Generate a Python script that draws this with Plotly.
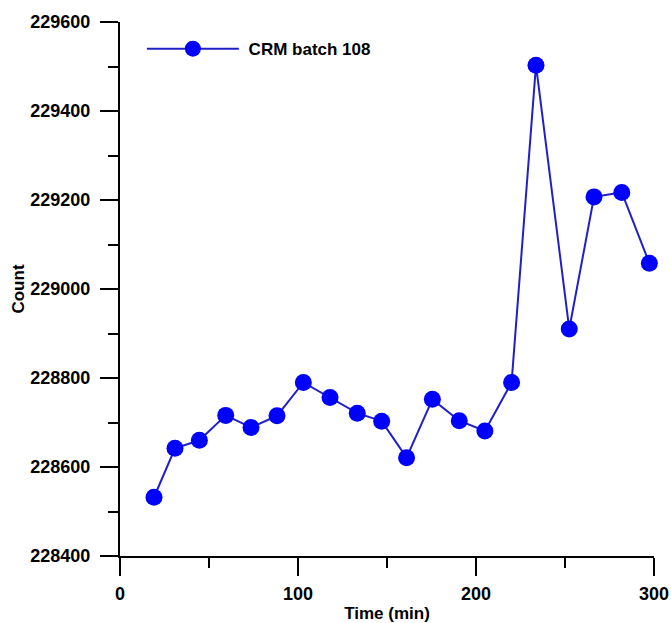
import plotly.graph_objects as go

time_min = [19.1, 30.9, 44.6, 59.4, 73.6, 88.2, 103.0, 118.0, 133.3, 147.0,
            161.0, 175.5, 190.6, 205.0, 220.0, 233.7, 252.4, 266.3, 281.9, 297.4]
count = [228532, 228642, 228660, 228716, 228689, 228715, 228790, 228756, 228721, 228703,
         228621, 228752, 228704, 228681, 228790, 229503, 228910, 229207, 229217, 229058]
series_name = "CRM batch 108"

FONT = "Liberation Sans"

fig = go.Figure()
fig.add_trace(go.Scatter(
    x=time_min, y=count, mode="lines+markers", name="\u00a0" + series_name,
    line=dict(color="#2020c8", width=2),
    marker=dict(color="#0000ff", size=17, line=dict(width=0)),
    cliponaxis=False,
))

axis_common = dict(
    showline=True, linecolor="black", linewidth=2,
    ticks="outside", ticklen=18, tickwidth=2, tickcolor="black",
    showgrid=False, zeroline=False, mirror=False, automargin=False,
    tickfont=dict(family=FONT, size=18, color="black", weight="bold"),
)

fig.update_xaxes(
    range=[0, 300], tickmode="linear", tick0=0, dtick=100,
    minor=dict(ticks="outside", ticklen=10, tickwidth=2, tickcolor="black", dtick=50, tick0=0),
    title=dict(text="<b>Time (min)</b>", font=dict(family=FONT, size=17, color="black"), standoff=10),
    ticklabelstandoff=2,
    **axis_common,
)
fig.update_yaxes(
    range=[228400, 229600], tickmode="linear", tick0=228400, dtick=200,
    minor=dict(ticks="outside", ticklen=10, tickwidth=2, tickcolor="black", dtick=100, tick0=228400),
    title=dict(text="<b>Count</b>", font=dict(family=FONT, size=17, color="black"), standoff=1),
    ticklabelstandoff=6, tickformat="d",
    **axis_common,
)

fig.update_layout(
    width=671, height=623,
    margin=dict(l=120, r=17, t=22, b=67),
    paper_bgcolor="white", plot_bgcolor="white",
    showlegend=True,
    legend=dict(x=0.041, y=0.983, xanchor="left", yanchor="top",
                bgcolor="rgba(0,0,0,0)", itemwidth=92,
                font=dict(family=FONT, size=17, color="black", weight="bold")),
)

fig.write_html(
    "out.html",
    config={"displayModeBar": False},
    post_script="document.body.style.margin='0';document.body.style.overflow='hidden';",
)
